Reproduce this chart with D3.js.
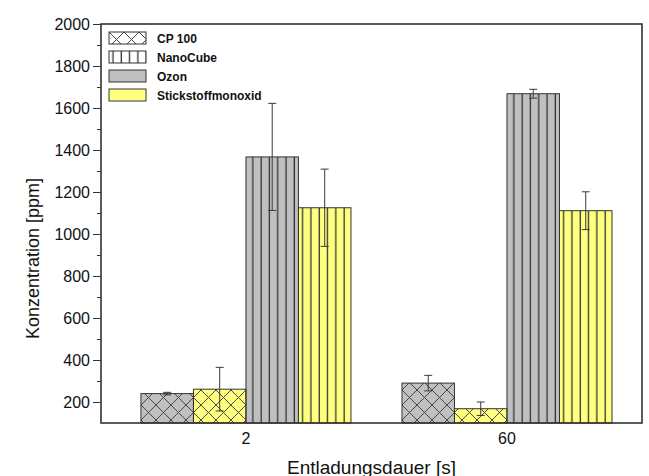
<!DOCTYPE html>
<html>
<head>
<meta charset="utf-8">
<script src="https://cdn.jsdelivr.net/npm/d3@7"></script>
<style>
  body { margin: 0; background: #fff; }
  svg { display: block; font-family: Arial, "Liberation Sans", sans-serif; }
</style>
</head>
<body>
<svg id="chart"></svg>
<script>
const durations = ['2', '60'];
const seriesNames = ['cp100Ozon', 'cp100No', 'nanoOzon', 'nanoNo'];

const cp100Ozon = [240, 290];
const cp100OzonErr = [6, 37];
const cp100No = [261, 168];
const cp100NoErr = [104, 32];
const nanoOzon = [1367, 1668];
const nanoOzonErr = [255, 21];
const nanoNo = [1125, 1111];
const nanoNoErr = [184, 90];

const legendLabels = ['CP 100', 'NanoCube', 'Ozon', 'Stickstoffmonoxid'];
const yTicks = [200, 400, 600, 800, 1000, 1200, 1400, 1600, 1800, 2000];
const yMinorTicks = [300, 500, 700, 900, 1100, 1300, 1500, 1700, 1900];

const width = 649, height = 476;
const plotLeft = 101, plotRight = 642, plotTop = 24, plotBottom = 423;

const svg = d3.select('#chart')
  .attr('width', width)
  .attr('height', height);

// patterns
const defs = svg.append('defs');
const cross = defs.append('pattern')
  .attr('id', 'cross')
  .attr('patternUnits', 'userSpaceOnUse')
  .attr('width', 15)
  .attr('height', 15);
cross.append('path')
  .attr('d', 'M0,0L15,15M15,0L0,15M-2,13L2,17M13,-2L17,2')
  .attr('stroke', '#444')
  .attr('stroke-width', 1)
  .attr('fill', 'none');
const vert = defs.append('pattern')
  .attr('id', 'vert')
  .attr('patternUnits', 'userSpaceOnUse')
  .attr('x', 0)
  .attr('width', 8.3)
  .attr('height', 10);
vert.append('line')
  .attr('x1', 4).attr('x2', 4)
  .attr('y1', 0).attr('y2', 10)
  .attr('stroke', '#333')
  .attr('stroke-width', 1.3);

const fills = { ozon: '#c0c0c0', no: '#ffff80' };

const rows = durations.map((d, i) => ({
  duration: d,
  values: [
    { key: 'cp100Ozon', value: cp100Ozon[i], err: cp100OzonErr[i], fill: fills.ozon, pattern: 'cross' },
    { key: 'cp100No', value: cp100No[i], err: cp100NoErr[i], fill: fills.no, pattern: 'cross' },
    { key: 'nanoOzon', value: nanoOzon[i], err: nanoOzonErr[i], fill: fills.ozon, pattern: 'vert' },
    { key: 'nanoNo', value: nanoNo[i], err: nanoNoErr[i], fill: fills.no, pattern: 'vert' }
  ]
}));

const x0 = d3.scaleBand()
  .domain(durations)
  .range([plotLeft, plotRight])
  .paddingInner(0.1954)
  .paddingOuter(0.134)
  .align(0.571);

const x1 = d3.scaleBand()
  .domain(seriesNames)
  .range([0, x0.bandwidth()]);

const y = d3.scaleLinear()
  .domain([100, 2000])
  .range([plotBottom, plotTop]);

// bars
const groups = svg.append('g')
  .selectAll('g')
  .data(rows)
  .enter()
  .append('g')
  .attr('transform', (d) => `translate(${x0(d.duration)},0)`);

groups.selectAll('rect.base')
  .data((d) => d.values)
  .enter()
  .append('rect')
  .attr('class', 'base')
  .attr('x', (d) => x1(d.key))
  .attr('y', (d) => y(d.value))
  .attr('width', x1.bandwidth())
  .attr('height', (d) => plotBottom - y(d.value))
  .attr('fill', (d) => d.fill);

groups.selectAll('rect.pat')
  .data((d) => d.values)
  .enter()
  .append('rect')
  .attr('class', 'pat')
  .attr('x', (d) => x1(d.key))
  .attr('y', (d) => y(d.value))
  .attr('width', x1.bandwidth())
  .attr('height', (d) => plotBottom - y(d.value))
  .attr('fill', (d) => `url(#${d.pattern})`)
  .attr('stroke', '#333')
  .attr('stroke-width', 1);

// error bars
const errs = groups.selectAll('g.err')
  .data((d) => d.values)
  .enter()
  .append('g')
  .attr('class', 'err')
  .attr('stroke', '#3a3a3a')
  .attr('stroke-width', 1);
errs.append('line')
  .attr('x1', (d) => x1(d.key) + x1.bandwidth() / 2)
  .attr('x2', (d) => x1(d.key) + x1.bandwidth() / 2)
  .attr('y1', (d) => y(d.value + d.err))
  .attr('y2', (d) => y(d.value - d.err));
errs.selectAll('line.cap')
  .data((d) => [d.value + d.err, d.value - d.err].map((v) => ({ v, key: d.key })))
  .enter()
  .append('line')
  .attr('class', 'cap')
  .attr('x1', (d) => x1(d.key) + x1.bandwidth() / 2 - 4)
  .attr('x2', (d) => x1(d.key) + x1.bandwidth() / 2 + 4)
  .attr('y1', (d) => y(d.v))
  .attr('y2', (d) => y(d.v));

// axes
const yAxis = d3.axisLeft(y)
  .tickValues(yTicks)
  .tickFormat(d3.format('d'))
  .tickSize(8)
  .tickPadding(3);
const yAxisG = svg.append('g')
  .attr('transform', `translate(${plotLeft},0)`)
  .call(yAxis);
yAxisG.select('.domain').remove();
yAxisG.selectAll('text')
  .attr('font-size', 16)
  .attr('fill', '#111');
yAxisG.selectAll('line').attr('stroke', '#333');

const yMinor = d3.axisLeft(y)
  .tickValues(yMinorTicks)
  .tickSize(4)
  .tickFormat('');
const yMinorG = svg.append('g')
  .attr('transform', `translate(${plotLeft},0)`)
  .call(yMinor);
yMinorG.select('.domain').remove();
yMinorG.selectAll('line').attr('stroke', '#333');

const xAxis = d3.axisBottom(x0)
  .tickSize(0)
  .tickPadding(10);
const xAxisG = svg.append('g')
  .attr('transform', `translate(0,${plotBottom})`)
  .call(xAxis);
xAxisG.select('.domain').remove();
xAxisG.selectAll('text')
  .attr('font-size', 16)
  .attr('fill', '#111');

// frame
svg.append('rect')
  .attr('x', plotLeft)
  .attr('y', plotTop)
  .attr('width', plotRight - plotLeft)
  .attr('height', plotBottom - plotTop)
  .attr('fill', 'none')
  .attr('stroke', '#333')
  .attr('stroke-width', 1.6);

// titles
svg.append('text')
  .attr('transform', `translate(39,${(plotTop + plotBottom) / 2 + 35}) rotate(-90)`)
  .attr('text-anchor', 'middle')
  .attr('font-size', 18)
  .attr('fill', '#111')
  .text('Konzentration [ppm]');

svg.append('text')
  .attr('x', (plotLeft + plotRight) / 2)
  .attr('y', 474)
  .attr('text-anchor', 'middle')
  .attr('font-size', 19)
  .attr('fill', '#111')
  .text('Entladungsdauer [s]');

// legend
const legendFills = [
  { fill: '#fff', pattern: 'cross' },
  { fill: '#fff', pattern: 'vert' },
  { fill: fills.ozon, pattern: null },
  { fill: fills.no, pattern: null }
];
const legend = svg.append('g')
  .selectAll('g')
  .data(legendLabels)
  .enter()
  .append('g')
  .attr('transform', (d, i) => `translate(109,${32 + i * 19})`);
legend.append('rect')
  .attr('width', 37)
  .attr('height', 12)
  .attr('fill', (d, i) => legendFills[i].fill);
legend.append('rect')
  .attr('width', 37)
  .attr('height', 12)
  .attr('fill', (d, i) => legendFills[i].pattern ? `url(#${legendFills[i].pattern})` : 'none')
  .attr('stroke', '#333')
  .attr('stroke-width', 1);
legend.append('text')
  .attr('x', 48)
  .attr('y', 10.5)
  .attr('font-size', 12)
  .attr('font-weight', 'bold')
  .attr('fill', '#111')
  .text((d) => d);
</script>
</body>
</html>
